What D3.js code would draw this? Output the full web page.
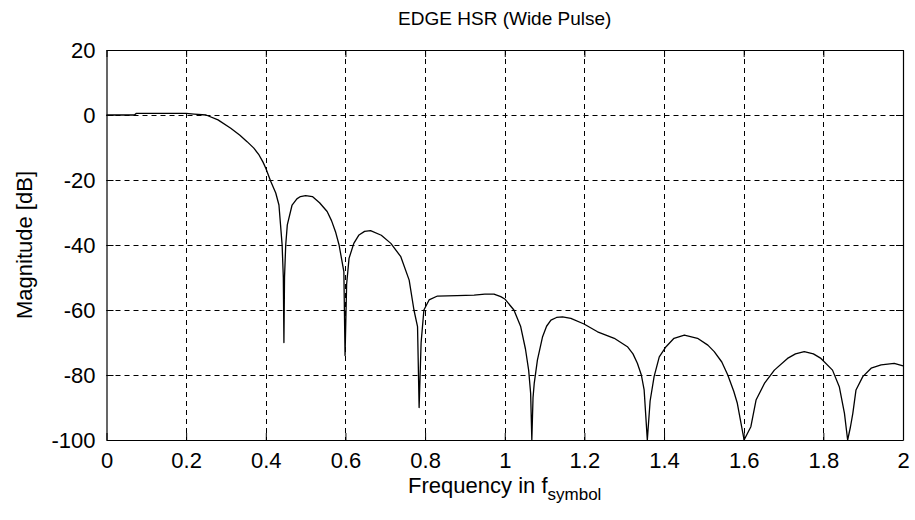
<!DOCTYPE html>
<html>
<head>
<meta charset="utf-8">
<script src="https://cdn.jsdelivr.net/npm/d3@7"></script>
<style>
  html, body { margin: 0; padding: 0; background: #fff; }
  svg { display: block; }
  text { font-family: "Liberation Sans", Arial, sans-serif; fill: #000; }
</style>
</head>
<body>
<svg id="chart" width="915" height="520"></svg>
<script>
// ---- data ----
const titleText = "EDGE HSR (Wide Pulse)";
const xTicks = [0, 0.2, 0.4, 0.6, 0.8, 1, 1.2, 1.4, 1.6, 1.8, 2];
const xTickLabels = ["0", "0.2", "0.4", "0.6", "0.8", "1", "1.2", "1.4", "1.6", "1.8", "2"];
const yTicks = [-100, -80, -60, -40, -20, 0, 20];
const yTickLabels = ["-100", "-80", "-60", "-40", "-20", "0", "20"];
const freq = [
  0, 0.07, 0.075, 0.15, 0.2, 0.22, 0.25, 0.28, 0.312, 0.335, 0.353, 0.37, 0.383, 0.393, 0.40, 0.412, 0.425, 0.433, 0.437, 0.441, 0.444, 0.4455, 0.447, 0.450, 0.454, 0.466, 0.478, 0.487, 0.5, 0.517, 0.535, 0.554, 0.565, 0.575, 0.584, 0.596, 0.599, 0.603, 0.609, 0.621, 0.634, 0.648, 0.663, 0.69, 0.714, 0.739, 0.760, 0.772, 0.781, 0.785, 0.790, 0.797, 0.81, 0.831, 0.88, 0.923, 0.95, 0.973, 0.99, 1.0, 1.023, 1.040, 1.052, 1.060, 1.065, 1.068, 1.071, 1.074, 1.082, 1.095, 1.105, 1.116, 1.13, 1.145, 1.166, 1.199, 1.233, 1.275, 1.308, 1.322, 1.333, 1.343, 1.35, 1.358, 1.365, 1.375, 1.388, 1.405, 1.425, 1.451, 1.484, 1.51, 1.526, 1.545, 1.56, 1.575, 1.584, 1.601, 1.618, 1.631, 1.652, 1.677, 1.71, 1.73, 1.752, 1.775, 1.794, 1.823, 1.84, 1.853, 1.861, 1.868, 1.874, 1.882, 1.899, 1.92, 1.945, 1.978, 2.0
];
const magnitudeDb = [
  0, 0, 0.5, 0.5, 0.5, 0.3, 0, -1.5, -4.1, -6.2, -8.2, -10.2, -12.3, -14.5, -16.4, -20.3, -24, -27.7, -33.8, -40, -50, -70, -50, -40, -33.8, -27.7, -25.8, -25.1, -24.8, -25.1, -27, -29.7, -32.5, -35.9, -40, -48.2, -74, -52, -44.1, -39.5, -36.9, -35.8, -35.6, -37, -39.5, -43.6, -50.8, -60, -65.1, -90, -70, -60, -56.9, -55.7, -55.6, -55.4, -55.1, -55.1, -55.9, -56.6, -60, -65.1, -72, -78.5, -85.6, -100, -87, -82.6, -75.4, -68.2, -65, -63.1, -62.3, -62.1, -62.6, -64.3, -66.7, -68.7, -71.3, -73.5, -76.4, -80, -84.6, -100, -88, -80.5, -74.4, -71.3, -68.7, -67.7, -68.7, -70.8, -72.8, -76, -80, -85, -88.7, -100, -95.9, -87.7, -82.6, -78.5, -74.9, -73.5, -72.8, -73.5, -74.9, -78.5, -83.6, -91.8, -100, -96, -91.8, -84.6, -80.5, -77.9, -76.9, -76.4, -77.2
];

// ---- layout ----
const mLeft = 106.5, mRight = 903, mTop = 50, mBottom = 440;
const svg = d3.select("#chart");
const x = d3.scaleLinear().domain([0, 2]).range([mLeft, mRight]);
const y = d3.scaleLinear().domain([-100, 20]).range([mBottom, mTop]);

// grid
const grid = svg.append("g").attr("stroke", "#000").attr("stroke-width", 1).attr("stroke-dasharray", "5,4");
grid.selectAll("line.gx").data(xTicks.slice(1, -1)).join("line")
  .attr("x1", d => Math.round(x(d)) + 0.5).attr("x2", d => Math.round(x(d)) + 0.5)
  .attr("y1", mTop).attr("y2", mBottom);
grid.selectAll("line.gy").data(yTicks.slice(1, -1)).join("line")
  .attr("y1", d => Math.round(y(d)) + 0.5).attr("y2", d => Math.round(y(d)) + 0.5)
  .attr("x1", mLeft).attr("x2", mRight);

// axes with inward ticks
const fmtX = (d, i) => xTickLabels[i];
const fmtY = (d, i) => yTickLabels[i];
const axB = svg.append("g").attr("transform", `translate(0,${mBottom})`)
  .call(d3.axisBottom(x).tickValues(xTicks).tickFormat(fmtX).tickSizeInner(-7).tickSizeOuter(0).tickPadding(12));
const axT = svg.append("g").attr("transform", `translate(0,${mTop})`)
  .call(d3.axisTop(x).tickValues(xTicks).tickFormat("").tickSizeInner(-7).tickSizeOuter(0));
const axL = svg.append("g").attr("transform", `translate(${mLeft},0)`)
  .call(d3.axisLeft(y).tickValues(yTicks).tickFormat(fmtY).tickSizeInner(-7).tickSizeOuter(0).tickPadding(11));
const axR = svg.append("g").attr("transform", `translate(${mRight},0)`)
  .call(d3.axisRight(y).tickValues(yTicks).tickFormat("").tickSizeInner(-7).tickSizeOuter(0));
[axB, axT, axL, axR].forEach(a => {
  a.selectAll(".domain").attr("stroke", "#000").attr("stroke-width", 1.2);
  a.selectAll(".tick line").attr("stroke", "#000");
  a.selectAll("text").attr("font-family", "Liberation Sans, Arial, sans-serif").attr("font-size", 22).attr("fill", "#000");
});

// curve
const pts = freq.map((f, i) => [f, magnitudeDb[i]]);
const line = d3.line().x(d => x(d[0])).y(d => y(d[1]));
svg.append("path").datum(pts).attr("d", line)
  .attr("fill", "none").attr("stroke", "#000").attr("stroke-width", 1.3).attr("stroke-linejoin", "round");

// title
svg.append("text").attr("x", (mLeft + mRight) / 2).attr("y", 25).attr("text-anchor", "middle")
  .attr("font-size", 19).text(titleText);

// x label with subscript
const xl = svg.append("text").attr("x", (mLeft + mRight) / 2).attr("y", 493).attr("text-anchor", "middle").attr("font-size", 22);
xl.append("tspan").text("Frequency in f");
xl.append("tspan").attr("font-size", 17).attr("dy", 7).text("symbol");

// y label
svg.append("text").attr("transform", `translate(32,${(mTop + mBottom) / 2}) rotate(-90)`)
  .attr("text-anchor", "middle").attr("font-size", 22).text("Magnitude [dB]");
</script>
</body>
</html>
